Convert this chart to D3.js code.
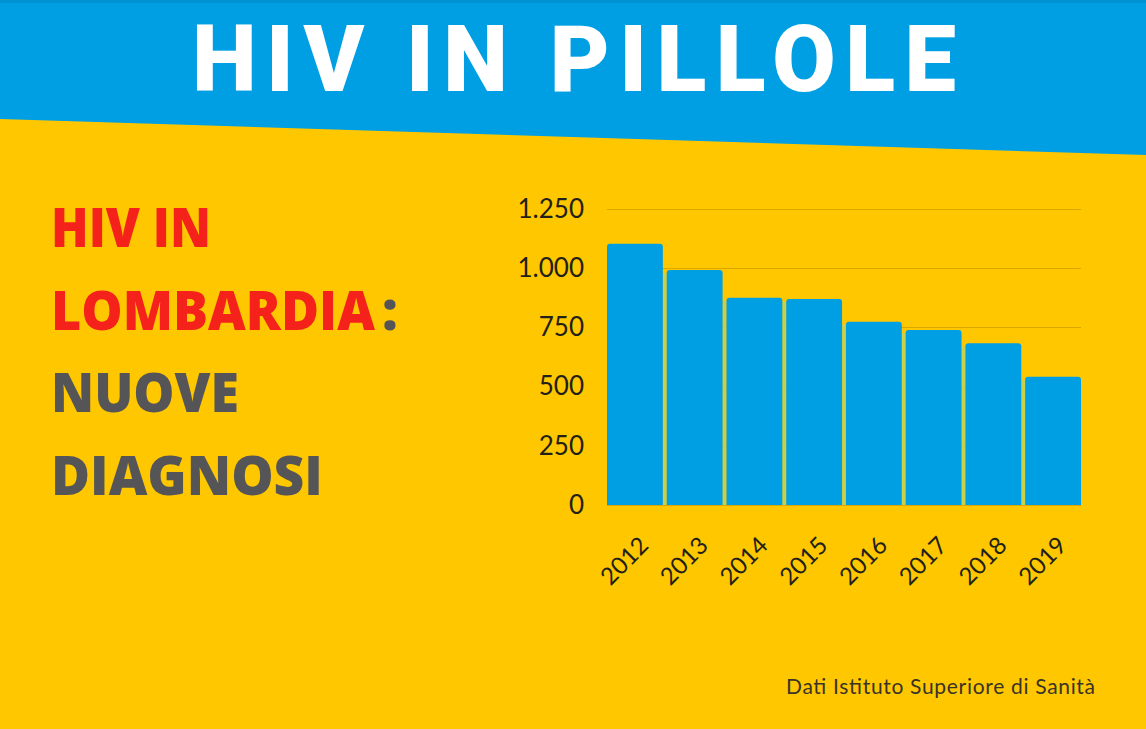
<!DOCTYPE html>
<html>
<head>
<meta charset="utf-8">
<script src="https://cdn.jsdelivr.net/npm/d3@7"></script>
<style>
  html, body { margin: 0; padding: 0; background: #ffc700; overflow: hidden; }
  svg { display: block; }
</style>
</head>
<body>
<svg id="chart" width="1146" height="729"></svg>
<script>
// ---- data ----
const years = ["2012", "2013", "2014", "2015", "2016", "2017", "2018", "2019"];
const diagnoses = [1103, 992, 875, 870, 774, 739, 683, 542];
const yTicks = [0, 250, 500, 750, 1000, 1250];
const yTickLabels = ["0", "250", "500", "750", "1.000", "1.250"];
const titleText = "HIV IN PILLOLE";
const sourceText = "Dati Istituto Superiore di Sanità";

const W = 1146, H = 729;
const svg = d3.select("#chart");
const YELLOW = "#ffc700", BLUE = "#009fe3";

// background
svg.append("rect").attr("width", W).attr("height", H).attr("fill", YELLOW);
// blue slanted header band
svg.append("path")
  .attr("d", `M0,0 L${W},0 L${W},155 L0,119 Z`)
  .attr("fill", BLUE);
svg.append("rect").attr("x", 0).attr("y", 0).attr("width", W).attr("height", 3).attr("fill", "#0093d4");

// title
svg.append("text")
  .attr("x", 192).attr("y", 91)
  .attr("textLength", 764).attr("lengthAdjust", "spacing")
  .style("font-family", "Roboto, 'Open Sans', sans-serif")
  .style("font-weight", 900).style("font-size", "92px")
  .attr("fill", "#ffffff")
  .text(titleText);

// left text block (horizontally scaled to the reference widths)
const leftFont = "'Open Sans', 'DejaVu Sans', sans-serif";
const RED = "#f5221b", GREY = "#555558";
function leftText(xp, y, str, color, len) {
  const t = svg.append("text").attr("x", 0).attr("y", 0)
    .style("font-family", leftFont).style("font-weight", 800).style("font-size", "55px")
    .attr("fill", color).text(str);
  let sx = 1;
  if (len) {
    const nat = t.node().getComputedTextLength();
    if (nat > 0) sx = len / nat;
  }
  t.attr("transform", `translate(${xp},${y}) scale(${sx},1)`);
  return t;
}
leftText(51, 247, "HIV IN", RED, 160);
leftText(51, 330, "LOMBARDIA", RED, 324);
leftText(382, 330, ":", GREY);
leftText(51, 412, "NUOVE", GREY, 188);
leftText(51, 495, "DIAGNOSI", GREY, 272);

// chart
const x = d3.scaleBand().domain(years).range([607, 1081]).paddingInner(0.065).paddingOuter(0);
const y = d3.scaleLinear().domain([0, 1250]).range([505, 209]);

// gridlines
svg.append("g").selectAll("line").data(yTicks).join("line")
  .attr("x1", 607).attr("x2", 1081)
  .attr("y1", d => Math.round(y(d)) + 0.5).attr("y2", d => Math.round(y(d)) + 0.5)
  .attr("stroke", "#d9a700").attr("stroke-width", 1);

// y tick labels
const yAxis = d3.axisLeft(y).tickValues(yTicks)
  .tickFormat((d, i) => yTickLabels[i]).tickSize(0).tickPadding(0);
const gy = svg.append("g").attr("transform", "translate(584,0)").call(yAxis);
gy.select(".domain").remove();
gy.selectAll("text")
  .style("font-family", "Lato, 'Open Sans', sans-serif")
  .style("font-size", "26px").attr("fill", "#231f1a");

// gaps between bars (blended edge colour)
const gapData = d3.range(years.length - 1);
svg.append("g").selectAll("rect").data(gapData).join("rect")
  .attr("x", i => x(years[i]) + x.bandwidth())
  .attr("width", x.step() - x.bandwidth())
  .attr("y", i => y(Math.min(diagnoses[i], diagnoses[i + 1])) + 3)
  .attr("height", i => y(0) - y(Math.min(diagnoses[i], diagnoses[i + 1])) - 3)
  .attr("fill", "#c9d04c");

// bars with rounded top corners
function barPath(x0, w, yTop, yBot, r) {
  return `M${x0},${yBot} L${x0},${yTop + r} Q${x0},${yTop} ${x0 + r},${yTop} ` +
    `L${x0 + w - r},${yTop} Q${x0 + w},${yTop} ${x0 + w},${yTop + r} L${x0 + w},${yBot} Z`;
}
svg.append("g").selectAll("path").data(years).join("path")
  .attr("d", (d, i) => barPath(x(d), x.bandwidth(), y(diagnoses[i]), y(0), 3))
  .attr("fill", BLUE);

// x labels rotated
const xAxis = d3.axisBottom(x).tickSize(0).tickPadding(0);
const gx = svg.append("g").attr("transform", "translate(0,505)").call(xAxis);
gx.select(".domain").remove();
gx.selectAll("text")
  .style("font-family", "Lato, 'Open Sans', sans-serif")
  .style("font-size", "24px").attr("fill", "#231f1a")
  .attr("text-anchor", "end").attr("dy", null).attr("y", 0)
  .attr("transform", "translate(15,42) rotate(-45)");

// source
svg.append("text").attr("x", 786).attr("y", 694)
  .attr("textLength", 309).attr("lengthAdjust", "spacing")
  .style("font-family", "Lato, 'Open Sans', sans-serif")
  .style("font-size", "21px").attr("fill", "#3a3328")
  .text(sourceText);
</script>
</body>
</html>
